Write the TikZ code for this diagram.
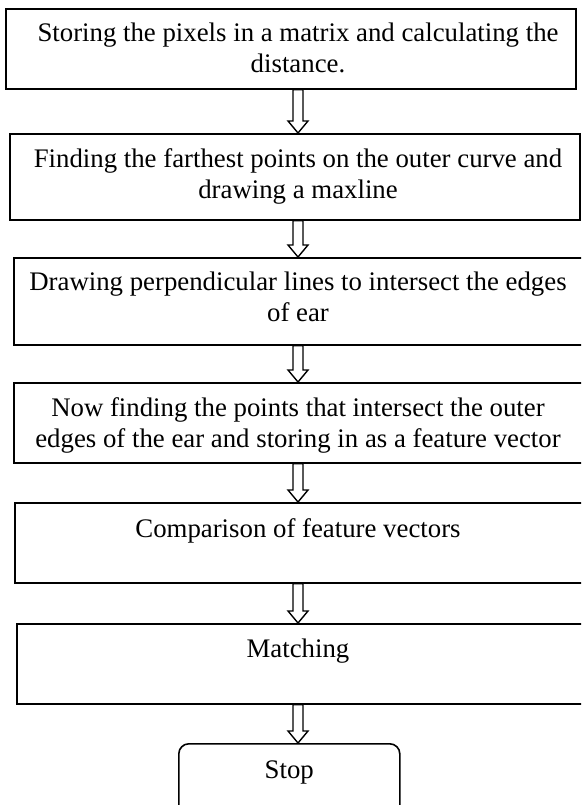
\documentclass[tikz,border=0pt]{standalone}
\usepackage{fontspec}
\setmainfont{Liberation Serif}
\usetikzlibrary{calc}
\begin{document}
\begin{tikzpicture}[x=1pt,y=1pt,
  flowbox/.style={draw=black, line width=1.6pt, rectangle, inner sep=0pt, anchor=north west},
  flowtext/.style={font=\fontsize{26.8}{31}\selectfont, align=center, inner sep=0pt, anchor=north},
  arrowline/.style={draw=black, fill=white, line width=1.4pt, line join=miter}
]
\newcommand\blockarrow[2]{\draw[arrowline] let \p1=(#1.south -| axis), \p2=(#2.north -| axis) in
  (\x1-5pt,\y1) -- (\x1-5pt,\y2+12pt) -- (\x1-10pt,\y2+12pt) -- (\x2,\y2) -- (\x1+10pt,\y2+12pt) -- (\x1+5pt,\y2+12pt) -- (\x1+5pt,\y1) -- cycle;}
\clip (0,0) rectangle (581,-805);
\coordinate (axis) at (298,0);
\node[flowbox, minimum width=570pt, minimum height=80pt] (b1) at (5,-8) {};
\node[flowbox, minimum width=570pt, minimum height=86pt] (b2) at (9,-133) {};
\node[flowbox, minimum width=590pt, minimum height=87pt] (b3) at (13,-257) {};
\node[flowbox, minimum width=590pt, minimum height=80pt] (b4) at (13,-382) {};
\node[flowbox, minimum width=590pt, minimum height=80pt] (b5) at (14,-502) {};
\node[flowbox, minimum width=590pt, minimum height=80pt] (b6) at (16,-623) {};
\node[flowbox, rounded corners=10pt, minimum width=221pt, minimum height=80pt] (b7) at (178,-743) {};
\node[flowtext] (t1) at ($(b1.north -| axis)+(0,-15)$) {Storing the pixels in a matrix and calculating the\\distance.};
\node[flowtext] (t2) at ($(b2.north -| axis)+(0,-15)$) {Finding the farthest points on the outer curve and\\drawing a maxline};
\node[flowtext] (t3) at ($(b3.north -| axis)+(0,-15)$) {Drawing perpendicular lines to intersect the edges\\of ear};
\node[flowtext] (t4) at ($(b4.north -| axis)+(0,-15)$) {Now finding the points that intersect the outer\\edges of the ear and storing in as a feature vector};
\node[flowtext] (t5) at ($(b5.north -| axis)+(0,-16)$) {Comparison of feature vectors};
\node[flowtext] (t6) at ($(b6.north -| axis)+(0,-16)$) {Matching};
\node[flowtext] (t7) at ($(b7.north)+(0,-18)$) {Stop};
\blockarrow{b1}{b2}
\blockarrow{b2}{b3}
\blockarrow{b3}{b4}
\blockarrow{b4}{b5}
\blockarrow{b5}{b6}
\blockarrow{b6}{b7}
\end{tikzpicture}
\end{document}
